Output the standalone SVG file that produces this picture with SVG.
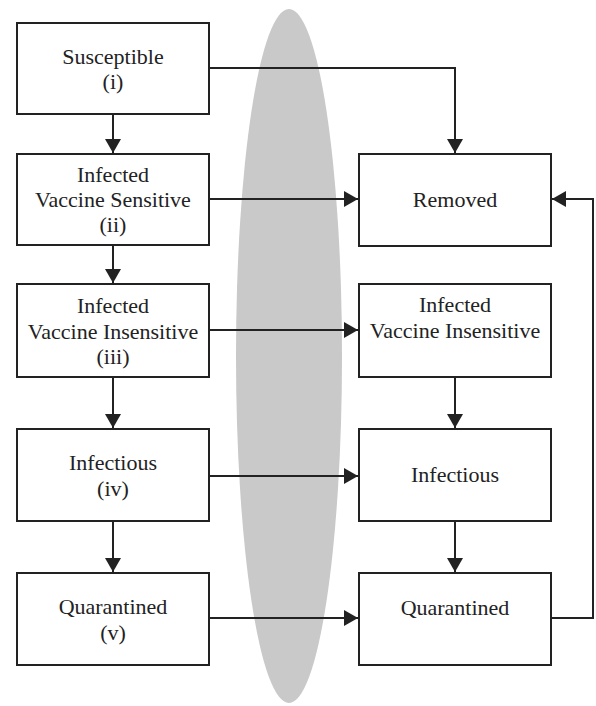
<svg xmlns="http://www.w3.org/2000/svg" width="596" height="706" viewBox="0 0 596 706">
<style>
.box{fill:#fff;stroke:#222;stroke-width:2}
.t{font-size:22px;fill:#222;text-anchor:middle}
.c{fill:none;stroke:#222;stroke-width:2}
</style>
<defs>
<marker id="ah" markerUnits="userSpaceOnUse" markerWidth="16" markerHeight="16" refX="14" refY="8" orient="auto">
<path d="M0,0 L14,8 L0,16 Z" fill="#222"/>
</marker>
</defs>
<rect width="596" height="706" fill="#fff"/>
<ellipse cx="289" cy="356" rx="53" ry="347" fill="#c9c9c9"/>
<g id="connectors">
<path class="c" d="M209,68 H455 V153" marker-end="url(#ah)"/>
<path class="c" d="M113,114 V153" marker-end="url(#ah)"/>
<path class="c" d="M113,245 V283" marker-end="url(#ah)"/>
<path class="c" d="M113,377 V428" marker-end="url(#ah)"/>
<path class="c" d="M113,521 V572" marker-end="url(#ah)"/>
<path class="c" d="M209,199 H358" marker-end="url(#ah)"/>
<path class="c" d="M209,330 H358" marker-end="url(#ah)"/>
<path class="c" d="M209,476 H358" marker-end="url(#ah)"/>
<path class="c" d="M209,618 H358" marker-end="url(#ah)"/>
<path class="c" d="M455,377 V428" marker-end="url(#ah)"/>
<path class="c" d="M455,521 V572" marker-end="url(#ah)"/>
<path class="c" d="M551,618 H593 V199 H552" stroke-width="2.5" marker-end="url(#ah)"/>
</g>
<g font-family="Liberation Serif, DejaVu Serif, Times New Roman, serif">
<g id="susceptible"><rect class="box" x="17" y="23" width="192" height="91"/><text class="t" x="113" y="64">Susceptible</text><text class="t" x="113" y="89">(i)</text></g>
<g id="ivs"><rect class="box" x="17" y="154" width="192" height="91"/><text class="t" x="113" y="182">Infected</text><text class="t" x="113" y="207">Vaccine Sensitive</text><text class="t" x="113" y="232">(ii)</text></g>
<g id="ivi"><rect class="box" x="17" y="284" width="192" height="93"/><text class="t" x="113" y="313">Infected</text><text class="t" x="113" y="339">Vaccine Insensitive</text><text class="t" x="113" y="364">(iii)</text></g>
<g id="infectious"><rect class="box" x="17" y="429" width="192" height="92"/><text class="t" x="113" y="470">Infectious</text><text class="t" x="113" y="496">(iv)</text></g>
<g id="quarantined"><rect class="box" x="17" y="573" width="192" height="92"/><text class="t" x="113" y="614">Quarantined</text><text class="t" x="113" y="640">(v)</text></g>
<g id="removed"><rect class="box" x="359" y="154" width="192" height="92"/><text class="t" x="455" y="207">Removed</text></g>
<g id="ivi2"><rect class="box" x="359" y="284" width="192" height="93"/><text class="t" x="455" y="312">Infected</text><text class="t" x="455" y="338">Vaccine Insensitive</text></g>
<g id="infectious2"><rect class="box" x="359" y="429" width="192" height="92"/><text class="t" x="455" y="482">Infectious</text></g>
<g id="quarantined2"><rect class="box" x="359" y="573" width="192" height="92"/><text class="t" x="455" y="615">Quarantined</text></g>
</g>
</svg>
